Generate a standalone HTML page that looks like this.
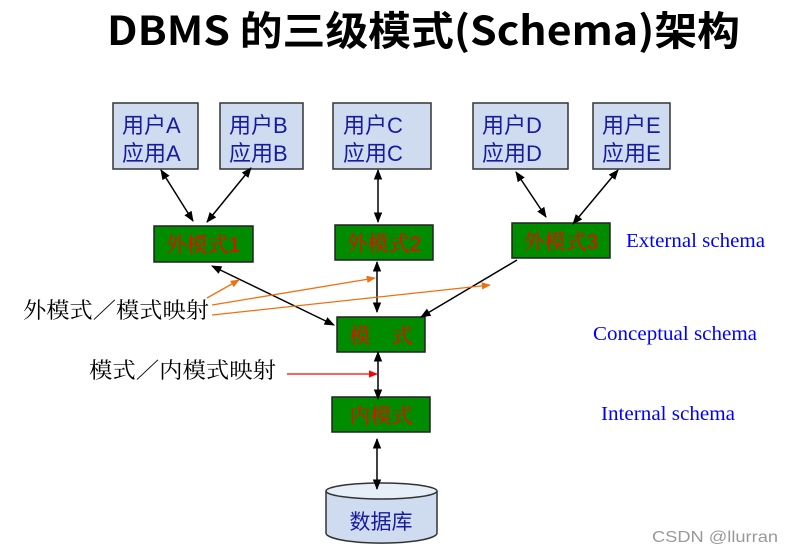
<!DOCTYPE html>
<html><head><meta charset="utf-8"><style>
html,body{margin:0;padding:0;background:#fff;width:793px;height:554px;overflow:hidden}
svg{display:block}
.cj{font-family:"Liberation Serif","Noto Serif CJK SC",serif}
</style></head><body>
<svg width="793" height="554" xmlns="http://www.w3.org/2000/svg">
<defs>
<marker id="ak" viewBox="0 0 10 10" refX="9" refY="5" markerWidth="7" markerHeight="7" orient="auto-start-reverse"><path d="M0,1 L10,5 L0,9 z" fill="#000"/></marker>
<marker id="ao" viewBox="0 0 10 10" refX="9" refY="5" markerWidth="7" markerHeight="7" orient="auto"><path d="M0,1 L10,5 L0,9 z" fill="#f07010"/></marker>
<marker id="ar" viewBox="0 0 10 10" refX="9" refY="5" markerWidth="7" markerHeight="7" orient="auto"><path d="M0,1 L10,5 L0,9 z" fill="#f00"/></marker>
</defs>
<text x="107" y="45" font-family="'Noto Sans CJK SC',sans-serif" font-weight="bold" font-size="40" textLength="633" lengthAdjust="spacingAndGlyphs">DBMS 的三级模式(Schema)架构</text>

<g fill="#cfdcf0" stroke="#333" stroke-width="1.5">
<rect x="113" y="103" width="85" height="66"/>
<rect x="220" y="103" width="83" height="66"/>
<rect x="333" y="103" width="98" height="66"/>
<rect x="473" y="103" width="95" height="66"/>
<rect x="593" y="103" width="77" height="66"/>
</g>
<g font-family="'Liberation Sans','Noto Sans CJK SC',sans-serif" font-size="22" fill="#1a1aa0">
<text x="122" y="133">用户A</text><text x="122" y="161">应用A</text>
<text x="229" y="133">用户B</text><text x="229" y="161">应用B</text>
<text x="343" y="133">用户C</text><text x="343" y="161">应用C</text>
<text x="482" y="133">用户D</text><text x="482" y="161">应用D</text>
<text x="602" y="133">用户E</text><text x="602" y="161">应用E</text>
</g>

<g fill="#008c00" stroke="#222" stroke-width="1.5">
<rect x="154" y="226" width="99" height="36"/>
<rect x="335" y="225" width="98" height="35"/>
<rect x="512" y="223" width="98" height="35"/>
<rect x="337" y="317" width="88" height="35"/>
<rect x="332" y="397" width="98" height="35"/>
</g>
<g font-family="'Liberation Sans','Noto Serif CJK SC',serif" font-size="21" fill="#f00" text-anchor="middle">
<text x="203" y="252">外模式1</text>
<text x="384" y="251">外模式2</text>
<text x="561" y="249">外模式3</text>
<text x="381" y="343">模　式</text>
<text x="381" y="423">内模式</text>
</g>

<path d="M326,491 L326,533 A55,10 0 0 0 437,533 L437,491" fill="#cfdcf0" stroke="#333" stroke-width="1.5"/>
<ellipse cx="381.5" cy="491" rx="55.5" ry="8" fill="#e6eef8" stroke="#333" stroke-width="1.5"/>
<text x="381" y="529" text-anchor="middle" font-family="'Noto Sans CJK SC',sans-serif" font-size="21" fill="#1a1aa0">数据库</text>

<g stroke="#000" stroke-width="1.5" marker-start="url(#ak)" marker-end="url(#ak)">
<line x1="161" y1="170" x2="193" y2="221"/>
<line x1="251" y1="168" x2="207" y2="222"/>
<line x1="378" y1="170" x2="378" y2="222"/>
<line x1="516" y1="172" x2="546" y2="217"/>
<line x1="618" y1="170" x2="573" y2="224"/>
<line x1="212" y1="266" x2="334" y2="325"/>
<line x1="377" y1="262" x2="377" y2="312"/>
<line x1="378" y1="352" x2="378" y2="399"/>
<line x1="377" y1="439" x2="377" y2="489"/>
</g>
<line x1="517" y1="260" x2="421" y2="317" stroke="#000" stroke-width="1.5" marker-end="url(#ak)"/>
<g stroke="#f07010" stroke-width="1.3" marker-end="url(#ao)">
<line x1="207" y1="298" x2="239" y2="280"/>
<line x1="212" y1="305" x2="375" y2="278"/>
<line x1="212" y1="315" x2="490" y2="285"/>
</g>
<line x1="287" y1="374" x2="377" y2="374" stroke="#f00" stroke-width="1.3" marker-end="url(#ar)"/>

<g class="cj" font-size="22" fill="#000">
<text x="23" y="318" textLength="186" lengthAdjust="spacingAndGlyphs">外模式／模式映射</text>
<text x="89" y="378" textLength="187" lengthAdjust="spacingAndGlyphs">模式／内模式映射</text>
</g>
<g font-family="'Liberation Serif',serif" font-size="20" fill="#0000ff">
<text x="626" y="247" textLength="139" lengthAdjust="spacingAndGlyphs">External schema</text>
<text x="593" y="340" textLength="164" lengthAdjust="spacingAndGlyphs">Conceptual schema</text>
<text x="601" y="420" textLength="134" lengthAdjust="spacingAndGlyphs">Internal schema</text>
</g>
<text x="652" y="542" font-family="'Liberation Sans',sans-serif" font-size="16" fill="#999" textLength="126" lengthAdjust="spacingAndGlyphs">CSDN @llurran</text>
</svg>
</body></html>
